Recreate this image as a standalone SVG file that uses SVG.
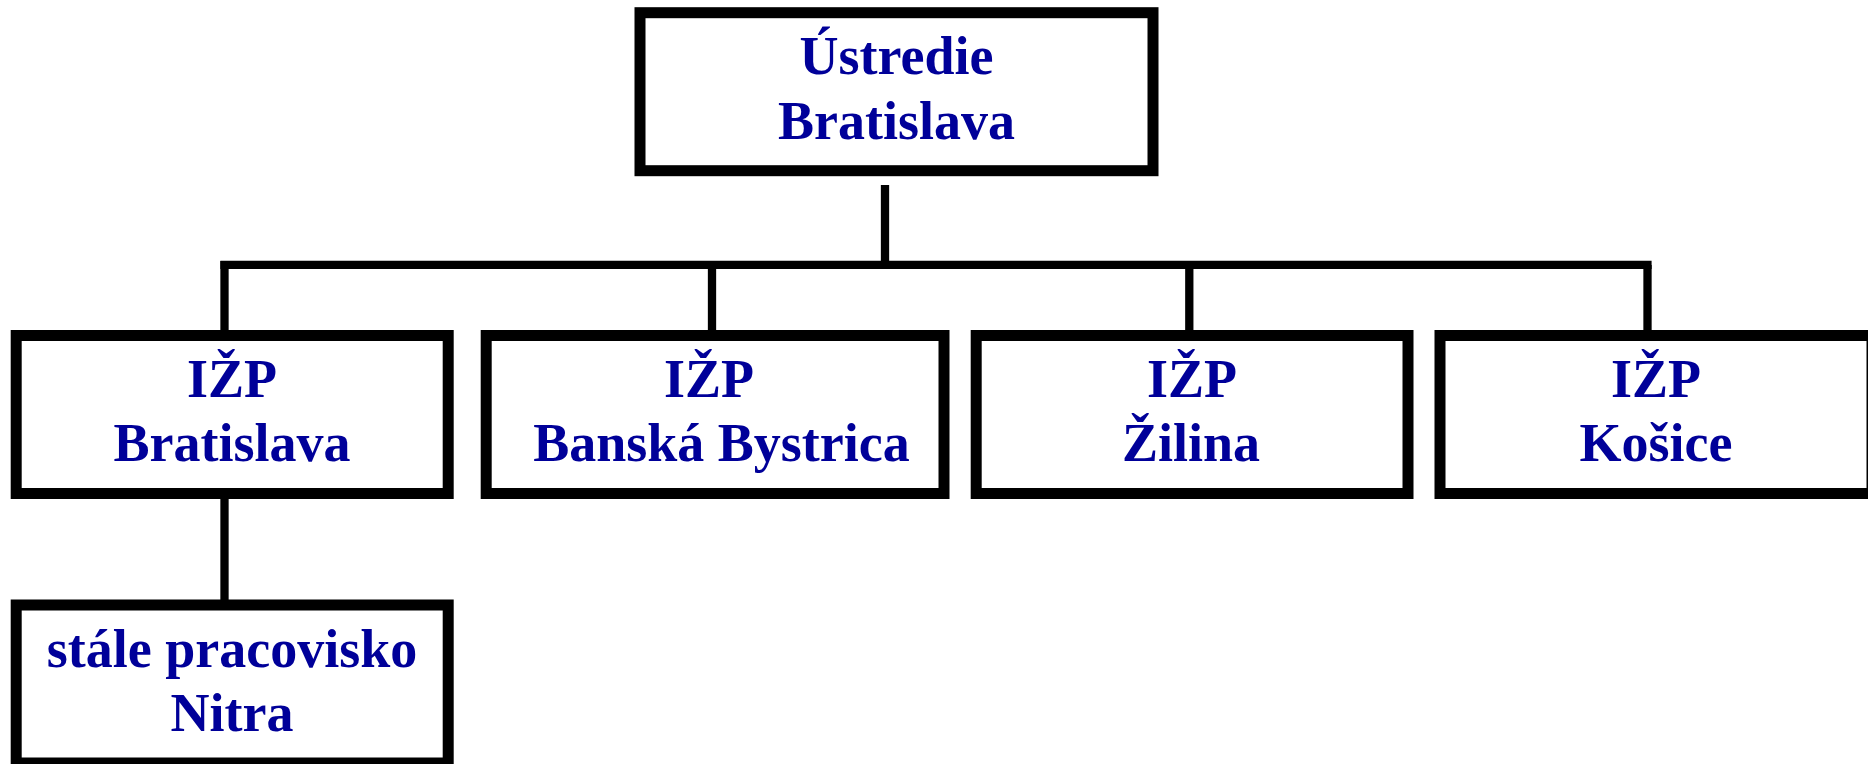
<svg xmlns="http://www.w3.org/2000/svg" width="1868" height="764" viewBox="0 0 1868 764">
<style>
.box{fill:#fff;stroke:#000;stroke-width:11}
.ln{fill:none;stroke:#000;stroke-width:8.3;stroke-linecap:butt}
.t{font-family:"Liberation Serif","Times New Roman",serif;font-weight:bold;font-size:54px;fill:#000099;text-anchor:middle}
</style>
<rect width="1868" height="764" fill="#fff"/>
<g id="connectors">
<line class="ln" x1="885" y1="185" x2="885" y2="265"/>
<line class="ln" x1="220.4" y1="264.8" x2="1651.6" y2="264.8"/>
<line class="ln" x1="224.5" y1="261" x2="224.5" y2="336"/>
<line class="ln" x1="712" y1="265" x2="712" y2="331"/>
<line class="ln" x1="1189.3" y1="265" x2="1189.3" y2="331"/>
<line class="ln" x1="1647.5" y1="265" x2="1647.5" y2="331"/>
<line class="ln" x1="224.5" y1="496" x2="224.5" y2="602"/>
</g>
<g id="ustredie">
<rect class="box" x="640" y="12.7" width="513" height="158"/>
<text class="t" x="896.5" y="74">Ústredie</text>
<text class="t" x="896.5" y="138.5">Bratislava</text>
</g>
<g id="izp-bratislava">
<rect class="box" x="16.2" y="335.5" width="432" height="158"/>
<text class="t" x="232" y="397">IŽP</text>
<text class="t" x="232" y="461">Bratislava</text>
</g>
<g id="izp-banska-bystrica">
<rect class="box" x="486.2" y="335.5" width="457.8" height="158"/>
<text class="t" x="709" y="397">IŽP</text>
<text class="t" x="721.5" y="461">Banská Bystrica</text>
</g>
<g id="izp-zilina">
<rect class="box" x="976.2" y="335.5" width="431.8" height="158"/>
<text class="t" x="1192" y="397">IŽP</text>
<text class="t" x="1191" y="461">Žilina</text>
</g>
<g id="izp-kosice">
<rect class="box" x="1440" y="335.5" width="432" height="158"/>
<text class="t" x="1656" y="397">IŽP</text>
<text class="t" x="1656" y="461">Košice</text>
</g>
<g id="nitra">
<rect class="box" x="16.2" y="605" width="432" height="158"/>
<text class="t" x="232" y="666.5">stále pracovisko</text>
<text class="t" x="232" y="730.5">Nitra</text>
</g>
</svg>
